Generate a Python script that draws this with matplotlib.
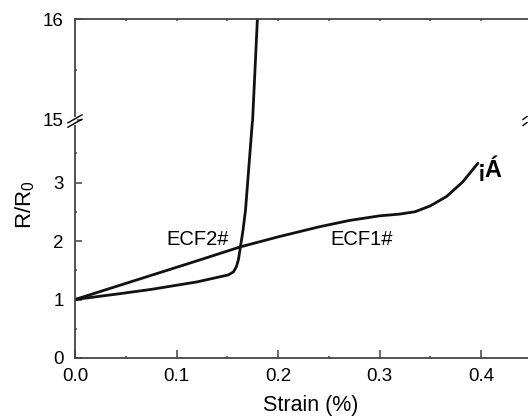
import matplotlib
matplotlib.use("Agg")
import matplotlib.pyplot as plt
from matplotlib.lines import Line2D
from matplotlib.ticker import MultipleLocator

plt.rcParams['font.family'] = ['Liberation Sans', 'DejaVu Sans']

# Data
ecf1_x = [0.0, 0.04, 0.08, 0.12, 0.163, 0.20, 0.24, 0.27, 0.30, 0.32, 0.335, 0.35, 0.366, 0.382, 0.397]
ecf1_y = [1.0, 1.22, 1.44, 1.66, 1.90, 2.07, 2.24, 2.35, 2.43, 2.46, 2.50, 2.60, 2.76, 3.01, 3.33]

ecf2_x = [0.0, 0.04, 0.074, 0.120, 0.151, 0.156, 0.159, 0.161, 0.163, 0.1655, 0.168, 0.1748, 0.1750, 0.1797]
ecf2_y = [1.0, 1.09, 1.17, 1.30, 1.42, 1.47, 1.56, 1.68, 1.90, 2.18, 2.53, 4.05, 15.0, 16.0]

xticks = [0.0, 0.1, 0.2, 0.3, 0.4]
xtick_labels = ["0.0", "0.1", "0.2", "0.3", "0.4"]
yticks_low = [0, 1, 2, 3]
yticks_high = [15, 16]

W, H = 528, 416
fig = plt.figure(figsize=(W / 100, H / 100), dpi=100)

left = 75 / W
right = 1.0
top_px, brk_px, bot_px = 19, 121, 358
ax_hi = fig.add_axes([left, 1 - brk_px / H, right - left, (brk_px - top_px) / H])
ax_lo = fig.add_axes([left, 1 - bot_px / H, right - left, (bot_px - brk_px) / H])

xmax = (W - 75) / 1015 * 1.0
lc = '#111111'
sc = '#444444'
for ax in (ax_hi, ax_lo):
    ax.plot(ecf1_x, ecf1_y, color=lc, lw=2.0, solid_capstyle='round', solid_joinstyle='round')
    ax.plot(ecf2_x, ecf2_y, color=lc, lw=2.0, solid_capstyle='round', solid_joinstyle='round')
    ax.set_xlim(0, xmax)
    ax.spines['right'].set_visible(False)
    for s in ('left', 'top', 'bottom'):
        ax.spines[s].set_color(sc)
        ax.spines[s].set_linewidth(1.3)
    ax.xaxis.set_minor_locator(MultipleLocator(0.05))
    ax.yaxis.set_minor_locator(MultipleLocator(0.5))
    ax.tick_params(which='both', direction='in', colors=sc, labelcolor='black', labelsize=13.5)
    ax.tick_params(axis='y', which='major', length=5, width=1.1, pad=8)
    ax.tick_params(axis='y', which='minor', length=1.5, width=1.1)

ax_lo.set_ylim(0, (bot_px - brk_px) / 58.5)
ax_hi.set_ylim(16 - (brk_px - top_px) / 101.0, 16)

ax_lo.spines['top'].set_visible(False)
ax_hi.spines['bottom'].set_visible(False)

ax_lo.set_yticks(yticks_low)
ax_hi.set_yticks(yticks_high)
ax_lo.set_xticks(xticks)
ax_lo.set_xticklabels(xtick_labels)
ax_lo.tick_params(axis='x', which='major', length=5.5, width=1.1, pad=7, top=False)
ax_lo.tick_params(axis='x', which='minor', length=1.5, width=1.1, top=False)

ax_hi.set_xticks(xticks)
ax_hi.tick_params(axis='x', which='both', bottom=False, labelbottom=False,
                  top=True, length=1.5, width=1.1)

# Text annotations
ax_lo.text(0.121, 2.02, "ECF2#", fontsize=14.5, ha='center', va='center')
ax_lo.text(0.2825, 2.02, "ECF1#", fontsize=14.5, ha='center', va='center')
ax_lo.text(0.397, 3.09, "¡Á", fontsize=17, fontweight='bold', ha='left', va='baseline')

fig.text(311 / W, 1 - 405 / H, "Strain (%)", fontsize=15.5, ha='center', va='center')
fig.text(25 / W, 1 - 205 / H, r"R/R$_\mathregular{0}$", fontsize=16, rotation=90,
         ha='center', va='center')

# Axis break marks
def brk(xc, yc, dx, dy, gap):
    fig.add_artist(Line2D([xc / W, xc / W], [1 - (yc - gap) / H, 1 - (yc + gap) / H],
                          color='white', lw=3, transform=fig.transFigure))
    for off in (-gap, gap):
        fig.add_artist(Line2D([(xc - dx) / W, (xc + dx) / W],
                              [1 - (yc + off + dy) / H, 1 - (yc + off - dy) / H],
                              color='black', lw=1.0, transform=fig.transFigure))

brk(75, 121, 7, 4, 2.2)
for off in (-3.0, 3.0):
    fig.add_artist(Line2D([523 / W, 527 / W],
                          [1 - (121 + off + 1.5) / H, 1 - (121 + off - 1.5) / H],
                          color='black', lw=1.0, transform=fig.transFigure))

fig.savefig("out.png", dpi=100)
